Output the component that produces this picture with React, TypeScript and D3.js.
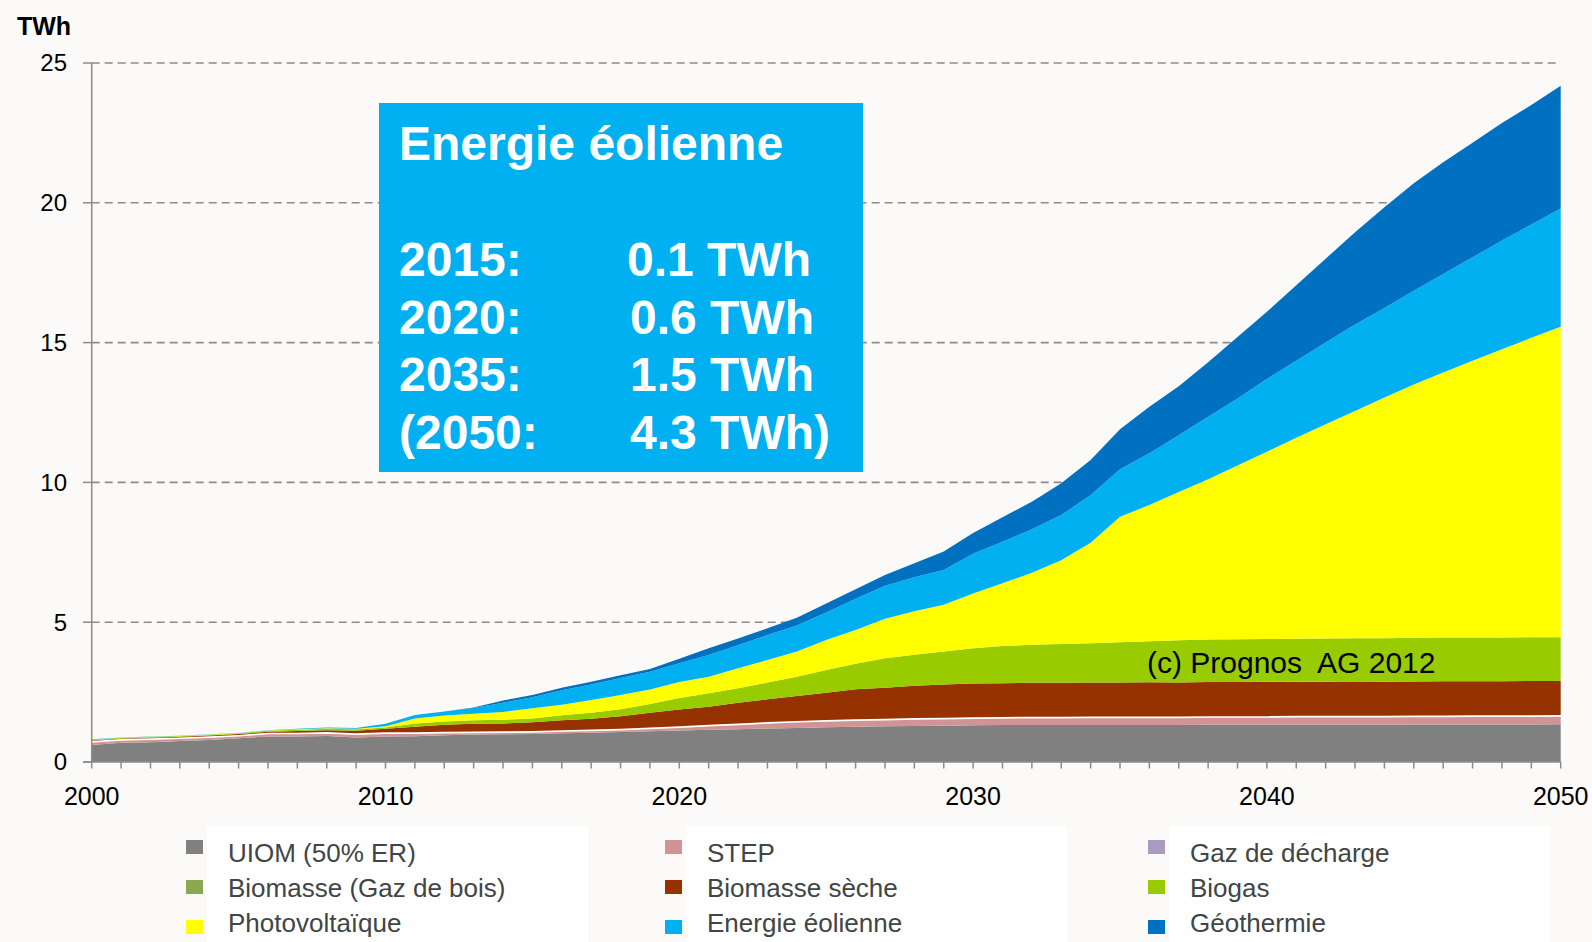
import React from "react";
import * as d3 from "d3";

// yearly values in TWh
const years = d3.range(2000, 2051);

const uiom = [0.61,0.69,0.71,0.75,0.79,0.85,0.91,0.91,0.93,0.88,0.91,0.92,0.96,0.98,0.99,1.00,1.03,1.05,1.07,1.10,1.13,1.15,1.17,1.20,1.22,1.24,1.26,1.28,1.29,1.30,1.31,1.32,1.32,1.32,1.32,1.32,1.32,1.32,1.33,1.33,1.33,1.33,1.33,1.33,1.33,1.34,1.34,1.34,1.34,1.34,1.35];
const step = [0.10,0.09,0.10,0.09,0.09,0.08,0.10,0.10,0.10,0.11,0.11,0.10,0.08,0.07,0.07,0.07,0.07,0.07,0.08,0.09,0.11,0.14,0.17,0.19,0.21,0.22,0.23,0.23,0.24,0.24,0.25,0.25,0.26,0.26,0.27,0.27,0.27,0.27,0.27,0.27,0.27,0.28,0.28,0.28,0.28,0.28,0.28,0.29,0.29,0.29,0.29];
const gazDecharge = [0.04,0.04,0.04,0.04,0.04,0.04,0.04,0.04,0.04,0.04,0.04,0.04,0.04,0.04,0.04,0.04,0.04,0.04,0.04,0.04,0.04,0.04,0.04,0.04,0.04,0.04,0.04,0.04,0.04,0.04,0.04,0.04,0.04,0.04,0.04,0.04,0.04,0.04,0.04,0.04,0.04,0.04,0.04,0.04,0.04,0.04,0.04,0.04,0.04,0.04,0.04];
const gazBois = [0,0,0,0,0,0,0,0,0,0,0,0,0,0,0,0,0,0,0,0,0,0,0,0,0,0,0,0,0,0,0,0,0,0,0,0,0,0,0,0,0,0,0,0,0,0,0,0,0,0,0];
const biomasseSeche = [0.02,0.02,0.02,0.02,0.03,0.03,0.03,0.06,0.07,0.09,0.13,0.20,0.25,0.28,0.28,0.31,0.35,0.39,0.45,0.53,0.60,0.65,0.74,0.81,0.89,0.98,1.07,1.11,1.16,1.19,1.21,1.21,1.21,1.21,1.21,1.21,1.22,1.21,1.22,1.22,1.23,1.22,1.22,1.23,1.22,1.22,1.23,1.22,1.22,1.23,1.22];
const biogas = [0.02,0.02,0.02,0.02,0.02,0.02,0.04,0.04,0.05,0.05,0.04,0.12,0.12,0.12,0.13,0.14,0.18,0.21,0.25,0.31,0.41,0.48,0.52,0.60,0.69,0.81,0.91,1.05,1.11,1.18,1.26,1.33,1.36,1.39,1.41,1.44,1.47,1.51,1.52,1.53,1.53,1.54,1.55,1.55,1.56,1.56,1.56,1.56,1.56,1.56,1.56];
const photovoltaique = [0.01,0.01,0.01,0.01,0.01,0.01,0.01,0.02,0.02,0.02,0.05,0.18,0.21,0.24,0.28,0.36,0.38,0.46,0.51,0.52,0.57,0.59,0.71,0.81,0.90,1.07,1.21,1.41,1.55,1.67,1.96,2.24,2.58,3.00,3.59,4.49,4.87,5.31,5.73,6.21,6.70,7.19,7.66,8.12,8.61,9.06,9.48,9.90,10.31,10.71,11.11];
const eolien = [0.01,0.01,0.01,0.01,0.01,0.01,0.01,0.02,0.02,0.03,0.09,0.12,0.15,0.20,0.33,0.40,0.52,0.55,0.60,0.64,0.67,0.78,0.83,0.89,0.93,0.99,1.12,1.18,1.22,1.25,1.42,1.49,1.55,1.61,1.71,1.70,1.85,2.03,2.24,2.40,2.60,2.75,2.92,3.10,3.20,3.35,3.52,3.70,3.89,4.05,4.23];
const geothermie = [0,0,0,0,0,0,0,0,0,0,0,0,0,0.02,0.08,0.08,0.09,0.10,0.10,0.10,0.16,0.24,0.24,0.24,0.28,0.32,0.34,0.39,0.50,0.66,0.74,0.87,0.99,1.14,1.25,1.43,1.67,1.75,1.95,2.20,2.40,2.70,3.00,3.30,3.60,3.85,4.00,4.10,4.20,4.28,4.39];

const stackKeys = ["uiom", "step", "gazDecharge", "gazBois", "biomasseSeche", "biogas", "photovoltaique", "eolien", "geothermie"];
const stackValues = [uiom, step, gazDecharge, gazBois, biomasseSeche, biogas, photovoltaique, eolien, geothermie];
const stackColors = ["#808080", "#d09494", "#a99bbd", "#8aa84e", "#963200", "#99cc00", "#ffff00", "#00b0f0", "#0070c0"];

// legend, row by row as in the original
const legendLabels = [
  "UIOM (50% ER)", "STEP", "Gaz de décharge",
  "Biomasse (Gaz de bois)", "Biomasse sèche", "Biogas",
  "Photovoltaïque", "Energie éolienne", "Géothermie",
];
const legendKeys = [
  "uiom", "step", "gazDecharge",
  "gazBois", "biomasseSeche", "biogas",
  "photovoltaique", "eolien", "geothermie",
];

const yTicks = [0, 5, 10, 15, 20, 25];
const xLabels = [2000, 2010, 2020, 2030, 2040, 2050];

const boxTitle = "Energie éolienne";
const boxYears = ["2015:", "2020:", "2035:", "(2050:"];
const boxValues = ["0.1 TWh", "0.6 TWh", "1.5 TWh", "4.3 TWh)"];

const FONT = "'Liberation Sans', Arial, sans-serif";

export default function App() {
  const rows = years.map((yr, i) => {
    const r: any = {year: yr};
    stackKeys.forEach((k, j) => { r[k] = stackValues[j][i]; });
    return r;
  });

  const series = d3.stack().keys(stackKeys)(rows);

  const x = d3.scaleLinear().domain([2000, 2050]).range([91.7, 1560.7]);
  const y = d3.scaleLinear().domain([0, 25]).range([762, 63]);

  const area = d3.area<any>()
    .x(d => x(d.data.year))
    .y0(d => y(d[0]))
    .y1(d => y(d[1]));

  const axisColor = "#8c8c8c";
  const legendBoxX = [207, 686, 1169];

  return (
    <svg width={1592} height={942} style={{position: "absolute", left: 0, top: 0}} fontFamily={FONT}>
      <rect x={0} y={0} width={1592} height={942} fill="#fbfaf8" />

      {/* grid */}
      {yTicks.filter(t => t > 0).map(t => (
        <line key={"g" + t} x1={x(2000)} x2={x(2050)} y1={y(t)} y2={y(t)}
          stroke={axisColor} strokeWidth={1.6} strokeDasharray="8,5" />
      ))}

      {/* areas */}
      {series.map((s, i) => (
        <path key={s.key} d={area(s as any) || ""} fill={stackColors[i]}
          stroke={s.key === "gazDecharge" ? "#ffffff" : "none"}
          strokeWidth={s.key === "gazDecharge" ? 1.2 : 0} />
      ))}

      {/* axes */}
      <line x1={x(2000)} x2={x(2000)} y1={y(25)} y2={y(0)} stroke={axisColor} strokeWidth={1.5} />
      <line x1={83} x2={x(2050)} y1={y(0)} y2={y(0)} stroke={axisColor} strokeWidth={1.5} />
      {yTicks.map(t => (
        <g key={"y" + t}>
          <line x1={83} x2={x(2000)} y1={y(t)} y2={y(t)} stroke={axisColor} strokeWidth={1.5} />
          <text x={67} y={y(t)} dy="0.35em" textAnchor="end" fontSize={24} fill="#000">{t}</text>
        </g>
      ))}
      {years.map(yr => (
        <line key={"t" + yr} x1={x(yr)} x2={x(yr)} y1={y(0)} y2={y(0) + 6.5} stroke={axisColor} strokeWidth={1.5} />
      ))}
      {xLabels.map(yr => (
        <text key={"x" + yr} x={x(yr)} y={805} textAnchor="middle" fontSize={25} fill="#000">{yr}</text>
      ))}
      <text x={17} y={35} fontSize={25} fontWeight="bold" fill="#000">TWh</text>

      {/* wind info box */}
      <rect x={379} y={103} width={484} height={369} fill="#00b0f0" />
      <text x={399} y={160} fontSize={48} fontWeight="bold" fill="#fff">{boxTitle}</text>
      {boxYears.map((lbl, i) => (
        <g key={"b" + i}>
          <text x={399} y={276 + i * 57.7} fontSize={48} fontWeight="bold" fill="#fff">{lbl}</text>
          <text x={i === 0 ? 627 : 630} y={276 + i * 57.7} fontSize={48} fontWeight="bold" fill="#fff">{boxValues[i]}</text>
        </g>
      ))}

      <text x={1147} y={673} fontSize={30} fill="#000" style={{whiteSpace: "pre"}}>(c) Prognos  AG 2012</text>

      {/* legend */}
      {legendBoxX.map(bx => (
        <rect key={"lb" + bx} x={bx} y={826} width={381} height={116} fill="#ffffff" />
      ))}
      {legendLabels.map((lbl, i) => {
        const col = i % 3;
        const row = Math.floor(i / 3);
        const bx = legendBoxX[col];
        const color = stackColors[stackKeys.indexOf(legendKeys[i])];
        return (
          <g key={"l" + i}>
            <rect x={bx - 21} y={840 + row * 40} width={17} height={14} fill={color} />
            <text x={bx + 21} y={862 + row * 35} fontSize={26} fill="#404545">{lbl}</text>
          </g>
        );
      })}
    </svg>
  );
}
